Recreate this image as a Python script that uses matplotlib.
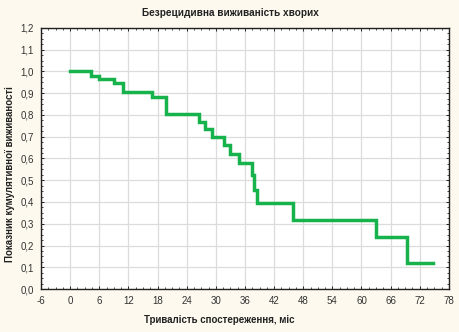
import matplotlib
matplotlib.use("Agg")
import matplotlib.pyplot as plt
from matplotlib.ticker import MultipleLocator, FuncFormatter

plt.rcParams['font.family'] = ['Liberation Sans', 'DejaVu Sans']

times = [0, 4.3, 6.0, 9.1, 10.8, 16.9, 19.7, 26.6, 27.8, 29.3, 31.6, 33.0, 34.7, 37.5, 37.9, 38.4, 45.8, 63.0, 69.4, 74.7]
survival = [1.0, 0.979, 0.966, 0.946, 0.907, 0.884, 0.803, 0.769, 0.734, 0.70, 0.662, 0.619, 0.58, 0.524, 0.455, 0.394, 0.317, 0.238, 0.118, 0.118]

title = "Безрецидивна виживаність хворих"
xlabel = "Тривалість спостереження, міс"
ylabel = "Показник кумулятивної виживаності"

bg = "#FDF9EE"
fig = plt.figure(figsize=(4.59, 3.32), dpi=100, facecolor=bg)
ax = fig.add_axes([0.0893, 0.1295, 0.8887, 0.7862])
ax.set_facecolor("white")

ax.step(times, survival, where="post", color="#16B24B", lw=2.5, solid_joinstyle="miter")

ax.set_xlim(-6, 78)
ax.set_ylim(0, 1.2)
ax.xaxis.set_major_locator(MultipleLocator(6))
ax.yaxis.set_major_locator(MultipleLocator(0.1))
ax.xaxis.set_minor_locator(MultipleLocator(1.5))
ax.yaxis.set_minor_locator(MultipleLocator(0.025))
ax.yaxis.set_major_formatter(FuncFormatter(lambda v, p: f"{v:.1f}".replace(".", ",")))
ax.xaxis.set_major_formatter(FuncFormatter(lambda v, p: f"{v:.0f}"))

ax.grid(True, which="major", color="#DCDCDC", lw=0.9)
ax.set_axisbelow(True)
ax.tick_params(which="both", direction="in", top=True, right=True, color="#222222")
ax.tick_params(which="major", length=2.5, width=0.7, labelsize=7, labelcolor="#333333", pad=5)
ax.tick_params(which="minor", length=1.5, width=0.6)
for s in ax.spines.values():
    s.set_color("#222222")
    s.set_linewidth(1.0)

fig.text(0.503, 0.975, title, ha="center", va="top", fontsize=7.2, fontweight="bold", color="#222222")
fig.text(0.477, 0.036, xlabel, ha="center", va="center", fontsize=7, fontweight="bold", color="#222222")
fig.text(0.022, 0.475, ylabel, ha="center", va="center", rotation=90, fontsize=7, fontweight="bold", color="#222222")

fig.savefig("out.png", dpi=100, facecolor=bg)
